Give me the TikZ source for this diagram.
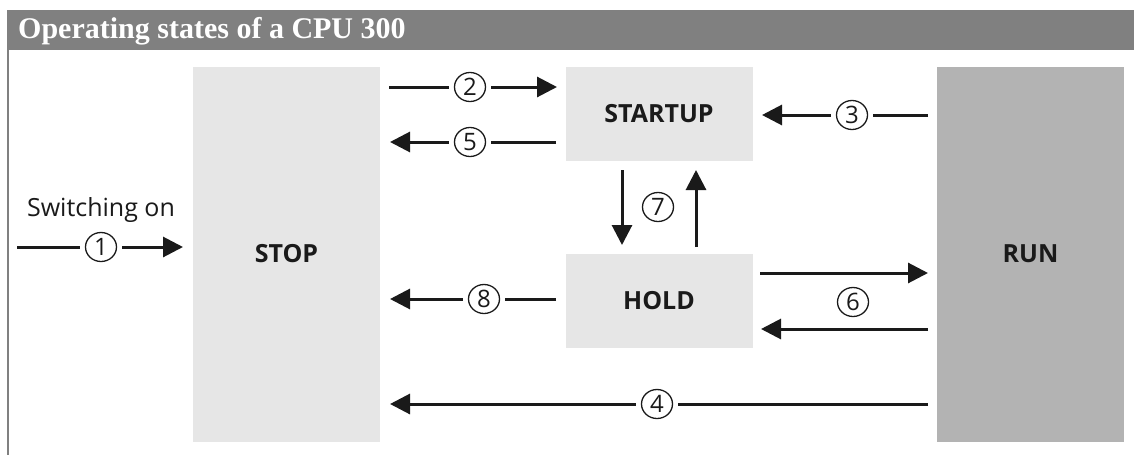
\documentclass[tikz,border=0pt]{standalone}
\usepackage{fontspec}
\setmainfont{Liberation Serif}
\setsansfont{Open Sans}
\usetikzlibrary{arrows.meta,shapes.geometric}
\definecolor{hdr}{HTML}{808080}
\definecolor{lite}{HTML}{E6E6E6}
\definecolor{dark}{HTML}{B3B3B3}
\definecolor{ink}{HTML}{1A1A1A}
\begin{document}
\begin{tikzpicture}[x=1pt,y=-1pt,
  statebox/.style={draw=none,inner sep=0pt,font=\sffamily\bfseries\fontsize{25}{28}\selectfont,text=ink},
  num/.style={ellipse,draw=ink,line width=1.3pt,minimum width=31pt,minimum height=29pt,inner sep=0pt,font=\sffamily\fontsize{24}{26}\selectfont,text=ink},
  seg/.style={line width=3pt,draw=ink},
  arr/.style={line width=3pt,draw=ink,-{Triangle[length=20pt,width=20pt]}},
  gapA/.style={shorten <=5pt},
  gapB/.style={shorten >=5pt}]
\useasboundingbox (0,0) rectangle (1134,455);
\fill[white] (0,0) rectangle (1134,455);
% header
\fill[hdr] (7,10) rectangle (1134,50);
\node[anchor=west,text=white,font=\rmfamily\bfseries\fontsize{30}{32}\selectfont,inner sep=0pt] (title) at (18,31) {Operating states of a CPU 300};
\draw[hdr,line width=2.5pt] (8.2,50) -- (8.2,455);
% boxes
\node[statebox,fill=lite,minimum width=187pt,minimum height=375pt] (stop) at (286.5,254) {STOP};
\node[statebox,fill=lite,minimum width=187pt,minimum height=94pt] (startup) at (659,113.5) {STARTUP};
\node[statebox,fill=lite,minimum width=187pt,minimum height=94pt] (hold) at (659,301) {HOLD};
\node[statebox,fill=dark,minimum width=187pt,minimum height=375pt] (run) at (1030.5,254) {RUN};
% switching on
\node[font=\sffamily\fontsize{25}{28}\selectfont,text=ink,inner sep=0pt] (sw) at (101,210) {Switching on};
\coordinate (a1s) at (17,247); \coordinate (a1e) at (183,247);
\node[num] (n1) at (101,247) {1};
\draw[seg,gapB] (a1s) -- (n1); \draw[arr,gapA] (n1) -- (a1e);
% 2
\coordinate (a2s) at (389,87); \coordinate (a2e) at (557,87);
\node[num] (n2) at (470,87) {2};
\draw[seg,gapB] (a2s) -- (n2); \draw[arr,gapA] (n2) -- (a2e);
% 5
\coordinate (a5s) at (556,142); \coordinate (a5e) at (390,142);
\node[num] (n5) at (470,142) {5};
\draw[seg,gapB] (a5s) -- (n5); \draw[arr,gapA] (n5) -- (a5e);
% 3
\coordinate (a3s) at (928,115); \coordinate (a3e) at (762,115);
\node[num] (n3) at (852,115) {3};
\draw[seg,gapB] (a3s) -- (n3); \draw[arr,gapA] (n3) -- (a3e);
% 8
\coordinate (a8s) at (556,299); \coordinate (a8e) at (390,299);
\node[num] (n8) at (484,299) {8};
\draw[seg,gapB] (a8s) -- (n8); \draw[arr,gapA] (n8) -- (a8e);
% 4
\coordinate (a4s) at (928,404); \coordinate (a4e) at (390,404);
\node[num] (n4) at (657,404) {4};
\draw[seg,gapB] (a4s) -- (n4); \draw[arr,gapA] (n4) -- (a4e);
% 6
\coordinate (a6as) at (760,273); \coordinate (a6ae) at (928,273);
\coordinate (a6bs) at (928,329); \coordinate (a6be) at (761,329);
\draw[arr] (a6as) -- (a6ae); \draw[arr] (a6bs) -- (a6be);
\node[num] (n6) at (853,302) {6};
% 7
\coordinate (a7as) at (622,170); \coordinate (a7ae) at (622,245);
\coordinate (a7bs) at (696,247); \coordinate (a7be) at (696,170);
\draw[arr] (a7as) -- (a7ae); \draw[arr] (a7bs) -- (a7be);
\node[num] (n7) at (658,207) {7};
\end{tikzpicture}
\end{document}
